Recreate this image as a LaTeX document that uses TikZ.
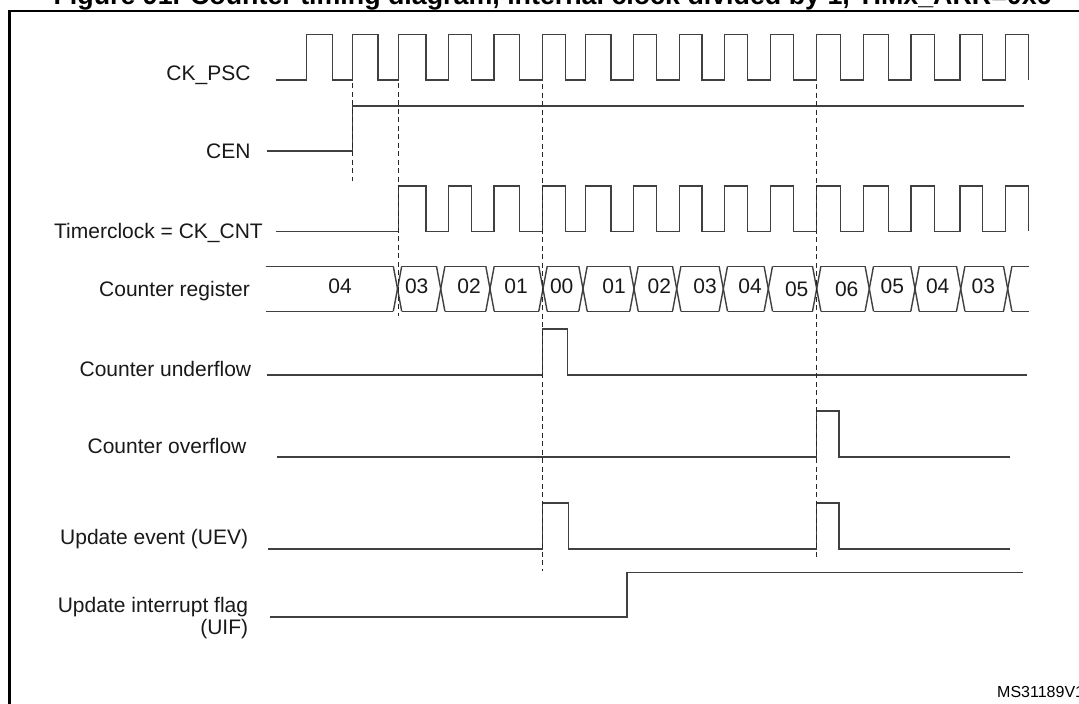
\documentclass[tikz,border=0pt]{standalone}
\usepackage{fontspec}
\setmainfont{Liberation Sans}
\begin{document}
\begin{tikzpicture}[x=1pt,y=-1pt,
  sig/.style={line width=1.4pt,draw=black!75,line join=miter},
  guide/.style={line width=1.3pt,draw=black!85,dash pattern=on 5pt off 3.5pt},
  lbl/.style={anchor=base east,inner sep=0pt,font=\fontsize{21}{25}\selectfont,text=black!90},
  val/.style={anchor=base,inner sep=0pt,font=\fontsize{21}{25}\selectfont,text=black!90}]
\useasboundingbox (0,0) rectangle (1079,704);
\fill[white] (0,0) rectangle (1079,704);

% title (cut at top) and frame
\node[anchor=base west,inner sep=0pt,font=\fontsize{26.8}{30}\bfseries\selectfont] (title) at (53.4,5)
  {Figure 91. Counter timing diagram, internal clock divided by 1, TIMx\_ARR=0x6};
\draw[line width=2.6pt] (1100,11) -- (9.5,11) -- (9.5,720);

% labels
\node[lbl] (lpsc) at (250.7,80) {CK\_PSC};
\node[lbl] (lcen) at (250.7,158.5) {CEN};
\node[lbl] (lcnt) at (263,238.8) {Timerclock = CK\_CNT};
\node[lbl] (lreg) at (250,296.3) {Counter register};
\node[lbl] (lund) at (251.4,376) {Counter underflow};
\node[lbl] (lovf) at (246.6,453.3) {Counter overflow};
\node[lbl] (luev) at (248.3,544) {Update event (UEV)};
\node[lbl] (luif) at (248.3,612.5) {Update interrupt flag};
\node[lbl] (luif2) at (248.3,634.5) {(UIF)};
\node[anchor=base west,inner sep=0pt,font=\fontsize{16}{19}\selectfont] (ms) at (997,697) {MS31189V1};

% CK_PSC
\draw[sig] (275.5,80)
  \foreach \r/\f in {306.5/332.3,352.3/377.8,398.2/425.8,448.2/471.5,494/519.5,542.7/565.5,585.5/611,633.5/656.2,679.3/702,724.7/747.6,770.5/793.6,816.6/840.5,863.5/888.5,911/934.3,960/982.5,1005.5/1028.4}
  { -- (\r,80) -- (\r,34.3) -- (\f,34.3) -- (\f,80) };

% CEN
\draw[sig] (267.2,151) -- (352.3,151) -- (352.3,106) -- (1024,106);

% Timerclock
\draw[sig] (275.7,231.3)
  \foreach \r/\f in {398.2/425.8,448.2/471.5,494/519.5,542.7/565.5,585.5/611,633.5/656.2,679.3/702,724.7/747.6,770.5/793.6,816.6/840.5,863.5/888.5,911/934.3,960/982.5,1005.5/1028.4}
  { -- (\r,231.3) -- (\r,186) -- (\f,186) -- (\f,231.3) };

% Counter register
\foreach \a/\b in {261.5/397.5,397.5/440.7,440.7/490,490/543,543/583,583/634,634/676.7,676.7/723.3,723.3/768.3,768.3/816.7,816.7/869.3,869.3/915,915/960.7,960.7/1007.7,1007.7/1033.5}
  { \draw[sig] (\a+4.2,266.3) -- (\b-4.2,266.3);
    \draw[sig] (\a+4.2,311.3) -- (\b-4.2,311.3); }
\foreach \t in {397.5,440.7,490,543,583,634,676.7,723.3,768.3,816.7,869.3,915,960.7,1007.7}
  { \draw[sig] (\t-4.2,266.3) -- (\t+4.2,311.3);
    \draw[sig] (\t-4.2,311.3) -- (\t+4.2,266.3); }
\foreach \x/\v [count=\i] in {340/04,416.7/03,469/02,516/01,561.7/00,614/01,659.3/02,705/03,750/04,892.3/05,937.7/04,983.3/03}
  { \node[val] (v\i) at (\x,293.3) {\v}; }
\node[val] (v05) at (796.7,296.7) {05};
\node[val] (v06) at (846.7,296.7) {06};

% Counter underflow
\draw[sig] (267.2,375) -- (542.7,375) -- (542.7,329) -- (567.7,329) -- (567.7,375) -- (1027.3,375);
% Counter overflow
\draw[sig] (277.2,457) -- (816.6,457) -- (816.6,411) -- (839,411) -- (839,457) -- (1009.6,457);
% UEV
\draw[sig] (268.3,549) -- (542.7,549) -- (542.7,503) -- (568.3,503) -- (568.3,549)
  -- (816.6,549) -- (816.6,503) -- (839,503) -- (839,549) -- (1010,549);
% UIF
\draw[sig] (270,617) -- (627,617) -- (627,572.6) -- (1023,572.6);

% dashed guides
\draw[guide] (352.3,83) -- (352.3,181);
\draw[guide] (398.2,83) -- (398.2,316);
\draw[guide] (542.7,84) -- (542.7,571);
\draw[guide] (816.6,84) -- (816.6,558);
\end{tikzpicture}
\end{document}
